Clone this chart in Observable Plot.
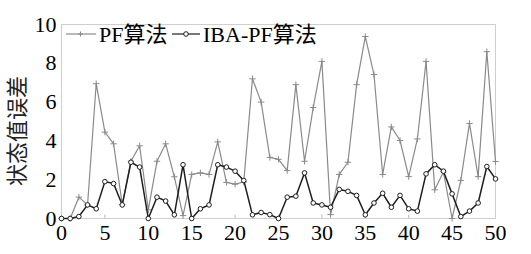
<!DOCTYPE html>
<html><head><meta charset="utf-8">
<script src="https://cdn.jsdelivr.net/npm/d3@7"></script>
<script src="https://cdn.jsdelivr.net/npm/@observablehq/plot@0.6"></script>
<style>body{margin:0;background:#fff} svg text{font-family:'Liberation Serif','Noto Sans CJK SC',serif !important;}</style>
</head><body><div id="chart"></div>
<script>
const steps = d3.range(0, 51);
const pfValues = [0,0,1.1,0.7,6.95,4.45,3.85,0.72,2.95,3.75,0.45,2.95,3.85,2.15,0.15,2.27,2.35,2.27,3.95,1.86,1.77,1.88,7.2,6.0,3.15,3.05,2.47,6.9,2.95,5.72,8.1,0.2,2.27,2.9,6.9,9.38,7.42,2.27,4.72,4.02,2.16,4.1,8.1,1.48,2.4,0,1.96,4.9,2.16,8.6,2.94];
const ibaValues = [0,0,0.1,0.7,0.5,1.9,1.8,0.7,2.9,2.65,0,1.1,0.9,0.19,2.77,0,0.5,0.7,2.77,2.65,2.44,1.96,0.19,0.31,0.2,0,1.1,1.15,2.35,0.8,0.7,0.58,1.5,1.4,1.19,0.19,0.8,1.3,0.58,1.19,0.5,0.38,2.3,2.77,2.44,1.27,0.1,0.38,0.8,2.68,2.04];
const xTicks = [0,5,10,15,20,25,30,35,40,45,50];
const yTicks = [0,2,4,6,8,10];
const seriesNames = ["PF算法", "IBA-PF算法"];
const yLabel = "状态值误差";

const pf = steps.map((s,i)=>({x:s, y:pfValues[i]}));
const iba = steps.map((s,i)=>({x:s, y:ibaValues[i]}));

const font = "'Liberation Serif', 'Noto Sans CJK SC', serif";
const pfColor = "#8a8a8a", ibaColor = "#1e1e1e";

const plot = Plot.plot({
  width: 531, height: 254,
  marginLeft: 61, marginRight: 36, marginTop: 24, marginBottom: 36,
  style: {fontFamily: font, fontSize: "22px", color: "#000", background: "#fff"},
  x: {domain: [0,50]},
  y: {domain: [0,10]},
  marks: [
    Plot.frame({stroke: "#cfcfcf"}),
    Plot.ruleX(xTicks.slice(1,-1), {y1: 0, y2: 0.18, stroke: "#bbb"}),
    Plot.axisX({ticks: xTicks, tickSize: 0, tickPadding: 6, fontSize: 22, label: null}),
    Plot.axisY({ticks: yTicks, tickSize: 0, tickPadding: 5, fontSize: 22, label: null}),
    Plot.line(pf, {x:"x", y:"y", stroke: pfColor, strokeWidth: 1.2}),
    Plot.dot(pf, {x:"x", y:"y", symbol: "plus", r: 2.2, stroke: pfColor, strokeWidth: 1}),
    Plot.line(iba, {x:"x", y:"y", stroke: ibaColor, strokeWidth: 1.5}),
    Plot.dot(iba, {x:"x", y:"y", r: 2.3, stroke: ibaColor, fill: "#fff", strokeWidth: 1})
  ]
});
document.getElementById("chart").appendChild(plot);

const svg = d3.select(plot);
// y label
svg.append("text").attr("transform", "translate(25,131) rotate(-90)")
  .attr("text-anchor", "middle").attr("font-size", 22).attr("fill", "#222")
  .text(yLabel);
// legend
const lg = svg.append("g").attr("font-size", 22).attr("text-anchor", "start").attr("fill", "#000");
lg.append("line").attr("x1",66).attr("x2",96).attr("y1",34).attr("y2",34).attr("stroke",pfColor).attr("stroke-width",1.2);
lg.append("path").attr("d","M78,34h5M80.5,31.5v5").attr("stroke",pfColor);
lg.append("text").attr("x",99).attr("y",42).text(seriesNames[0]);
lg.append("line").attr("x1",172).attr("x2",200).attr("y1",34).attr("y2",34).attr("stroke",ibaColor).attr("stroke-width",1.2);
lg.append("circle").attr("cx",186).attr("cy",34).attr("r",2.3).attr("stroke",ibaColor).attr("fill","#fff");
lg.append("text").attr("x",203).attr("y",42).text(seriesNames[1]);
</script>
</body></html>
